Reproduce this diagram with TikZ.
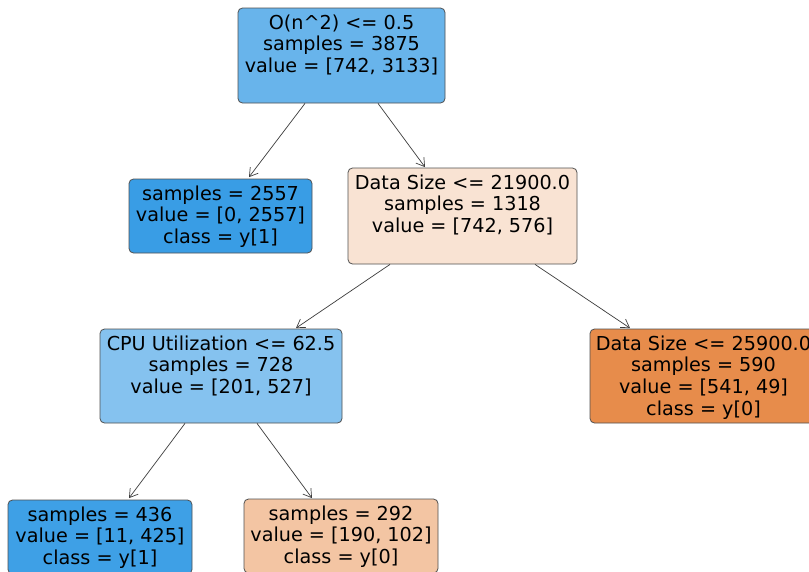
\documentclass[tikz,border=0pt]{standalone}
\usepackage{fontspec}
\setmainfont{DejaVu Sans}
\usetikzlibrary{arrows.meta}
\definecolor{cRoot}{RGB}{104,180,235}
\definecolor{cLeafA}{RGB}{57,157,229}
\definecolor{cDS}{RGB}{249,227,211}
\definecolor{cCPU}{RGB}{133,194,239}
\definecolor{cDSb}{RGB}{231,140,75}
\definecolor{cLeafC}{RGB}{62,160,230}
\definecolor{cLeafD}{RGB}{243,197,163}
\definecolor{cBorder}{RGB}{80,80,80}
\definecolor{cEdge}{RGB}{60,60,60}
\tikzset{
  treebox/.style={draw=cBorder, line width=0.8pt, rounded corners=4.5pt, inner sep=0pt, anchor=center},
  treetext/.style={inner sep=0pt, anchor=north, align=center, text=black, font=\fontsize{19.2}{21.7}\selectfont},
  treeedge/.style={draw=cEdge, line width=0.7pt, -{Straight Barb[length=8pt,width=10pt,line width=0.7pt]}}
}
\begin{document}
\begin{tikzpicture}[x=1pt,y=-1pt]
\clip (0,0) rectangle (809,571);
\fill[white] (0,0) rectangle (809,571);
% boxes
\node[treebox, fill=cRoot, minimum width=207pt, minimum height=95pt] (root) at (341.5,55.5) {};
\node[treebox, fill=cLeafA, minimum width=183pt, minimum height=74pt] (leafa) at (220.5,216) {};
\node[treebox, fill=cDS, minimum width=229pt, minimum height=96pt] (ds) at (462.5,216) {};
\node[treebox, fill=cCPU, minimum width=242pt, minimum height=94pt] (cpu) at (221,376) {};
\node[treebox, fill=cDSb, minimum width=227pt, minimum height=94pt] (dsb) at (703.5,376) {};
\node[treebox, fill=cLeafC, minimum width=184pt, minimum height=74pt] (leafc) at (100,537) {};
\node[treebox, fill=cLeafD, minimum width=194pt, minimum height=74pt] (leafd) at (341,536) {};
% texts
\node[treetext] (troot) at (341.5,14.4) {O(n\^{}2) <= 0.5\\samples = 3875\\value = [742, 3133]};
\node[treetext] (tleafa) at (220.5,185.4) {samples = 2557\\value = [0, 2557]\\class = y[1]};
\node[treetext] (tds) at (462.5,174.4) {Data Size <= 21900.0\\samples = 1318\\value = [742, 576]};
\node[treetext] (tcpu) at (221,335.4) {CPU Utilization <= 62.5\\samples = 728\\value = [201, 527]};
\node[treetext] (tdsb) at (703.5,335.4) {Data Size <= 25900.0\\samples = 590\\value = [541, 49]\\class = y[0]};
\node[treetext] (tleafc) at (100,506.4) {samples = 436\\value = [11, 425]\\class = y[1]};
\node[treetext] (tleafd) at (341,505.4) {samples = 292\\value = [190, 102]\\class = y[0]};
% edges
\draw[treeedge] ([xshift=-36.5pt]root.south) -- ([xshift=28.5pt,yshift=1.5pt]leafa.north);
\draw[treeedge] ([xshift=36.5pt]root.south) -- ([xshift=-37.5pt,yshift=0.5pt]ds.north);
\draw[treeedge] ([xshift=-72.5pt]ds.south) -- ([xshift=75pt,yshift=0.5pt]cpu.north);
\draw[treeedge] ([xshift=72.5pt]ds.south) -- ([xshift=-73.5pt,yshift=0.5pt]dsb.north);
\draw[treeedge] ([xshift=-36pt]cpu.south) -- ([xshift=29pt,yshift=1.5pt]leafc.north);
\draw[treeedge] ([xshift=36pt]cpu.south) -- ([xshift=-29pt,yshift=0.5pt]leafd.north);
\end{tikzpicture}
\end{document}
